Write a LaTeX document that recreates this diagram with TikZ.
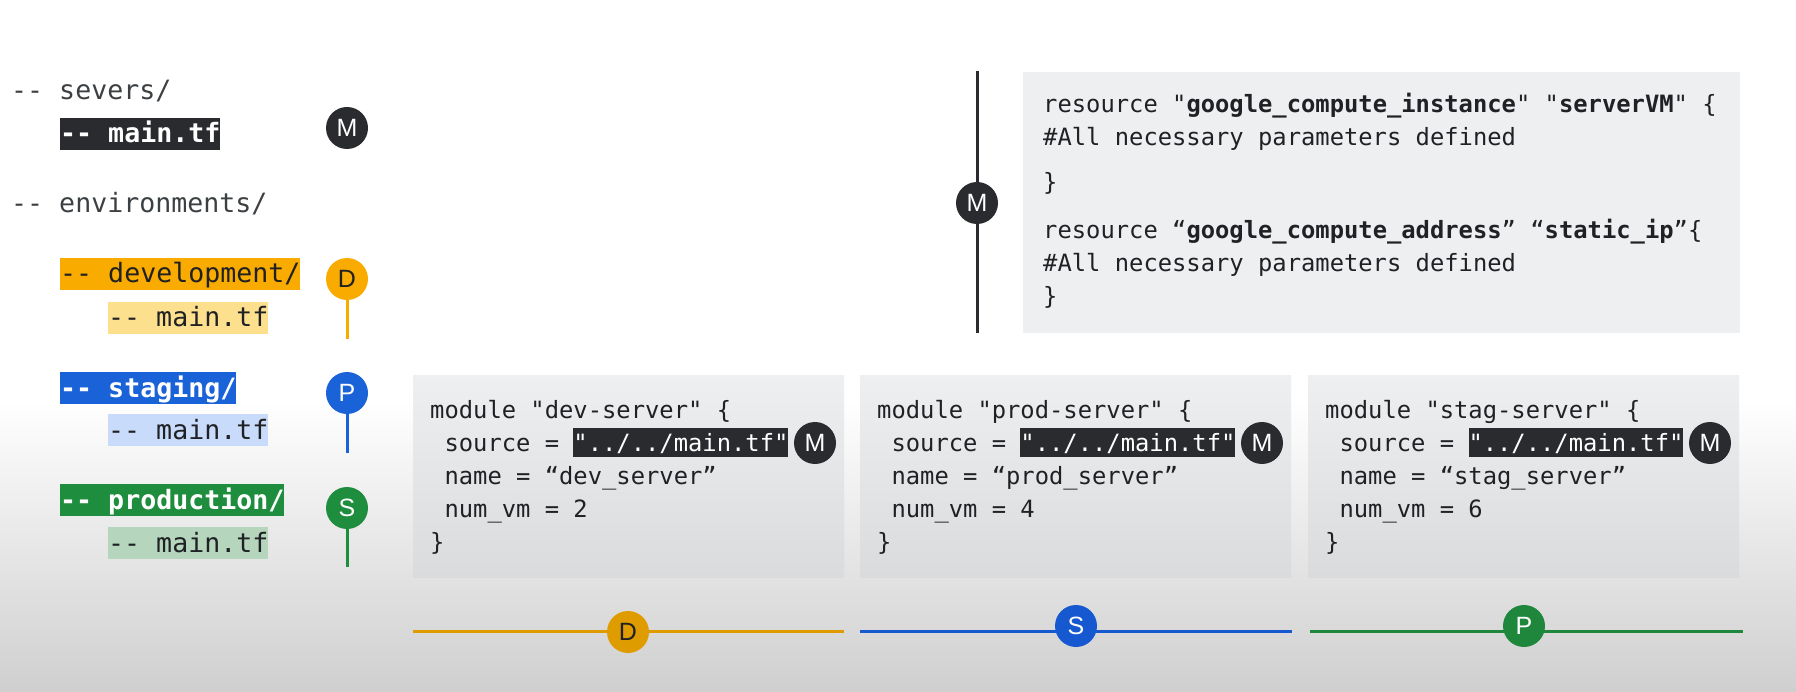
\documentclass[tikz,border=0pt]{standalone}
\usepackage{fontspec}
\setmainfont{Liberation Sans}
\setmonofont{DejaVu Sans Mono}
\usetikzlibrary{positioning}

\definecolor{inkdark}{HTML}{202124}
\definecolor{inkgray}{HTML}{3C4043}
\definecolor{tagdark}{HTML}{2A2B2E}
\definecolor{devyellow}{HTML}{F9AB00}
\definecolor{devdeep}{HTML}{DE9C00}
\definecolor{devlight}{HTML}{FDE08E}
\definecolor{stagblue}{HTML}{1A62D8}
\definecolor{stagdeep}{HTML}{1558CF}
\definecolor{staglight}{HTML}{C8DBFA}
\definecolor{prodgreen}{HTML}{1E8E3E}
\definecolor{proddeep}{HTML}{1E873B}
\definecolor{prodlight}{HTML}{B5D6BC}
\definecolor{codebg}{HTML}{EEEFF1}
\definecolor{codebgdeep}{HTML}{DADBDD}
\definecolor{bggray}{HTML}{CFCFCF}

\tikzset{
   tree/.style={anchor=base west, inner sep=0pt, text=inkgray,
      font=\ttfamily\fontsize{26.6}{30}\selectfont},
   treehl/.style={tree, text height=25pt, text depth=7pt},
   code/.style={anchor=base west, inner sep=0pt, text=inkdark, align=left,
      font=\ttfamily\fontsize{23.8}{33}\selectfont},
   tag/.style={circle, minimum size=42pt, inner sep=0pt, text=white,
      font=\fontsize{25}{25}\selectfont},
   pin/.style={line width=3pt}
}

\newcommand{\srcpath}{{\setlength{\fboxsep}{0pt}%
   \colorbox{tagdark}{\color{white}\rule[-6pt]{0pt}{29pt}"../../main.tf"}}}

\begin{document}
\begin{tikzpicture}[x=1pt, y=-1pt]
   \useasboundingbox (0,0) rectangle (1796,692);
   \fill[white] (0,0) rectangle (1796,692);
   \shade[top color=white, bottom color=bggray] (0,400) rectangle (1796,692);

   % folder tree
   \node[tree] (severs) at (11,100) {-- severs/};
   \node[treehl, fill=tagdark, text=white] (seversmain) at (60,143) {\textbf{-- main.tf}};
   \node[tree] (envs) at (11,213) {-- environments/};
   \node[treehl, fill=devyellow, text=inkdark] (devdir) at (60,283) {-- development/};
   \node[treehl, fill=devlight, text=inkdark] (devmain) at (108,327) {-- main.tf};
   \node[treehl, fill=stagblue, text=white] (stagdir) at (60,397) {\textbf{-- staging/}};
   \node[treehl, fill=staglight, text=inkdark] (stagmain) at (108,439) {-- main.tf};
   \node[treehl, fill=prodgreen, text=white] (proddir) at (60,509) {\textbf{-- production/}};
   \node[treehl, fill=prodlight, text=inkdark] (prodmain) at (108,552) {-- main.tf};

   % tags next to the tree
   \node[tag, fill=tagdark] (mtree) at (347,128) {M};
   \node[tag, fill=devyellow, text=inkdark] (dtree) at (347,279) {D};
   \node[tag, fill=stagblue] (ptree) at (347,393) {P};
   \node[tag, fill=prodgreen] (stree) at (347,508) {S};
   \coordinate (dend) at (347,339);
   \coordinate (pend) at (347,453);
   \coordinate (send) at (347,567);
   \draw[pin, devyellow] (dtree) -- (dend);
   \draw[pin, stagblue] (ptree) -- (pend);
   \draw[pin, prodgreen] (stree) -- (send);

   % shared main.tf
   \coordinate (mtop) at (977,71);
   \coordinate (mbot) at (977,333);
   \node[tag, fill=tagdark] (mres) at (977,203) {M};
   \draw[pin, tagdark] (mtop) -- (mres);
   \draw[pin, tagdark] (mres) -- (mbot);
   \fill[codebg] (1023,72) rectangle (1740,333);
   % base of a multi-line node is its last line
   \node[code] (resources) at (1043,305) {resource "\textbf{google\_compute\_instance}" "\textbf{serverVM}" \{\\
      \#All necessary parameters defined\\[12pt]
      \}\\[15pt]
      resource “\textbf{google\_compute\_address}” “\textbf{static\_ip}”\{\\
      \#All necessary parameters defined\\
      \}};

   % modules
   \foreach \x/\srv/\n in {413/dev/2, 860/prod/4, 1308/stag/6} {
      \shade[top color=codebg, bottom color=codebgdeep] (\x,376) rectangle (\x+431,577);
      \node[code] (\srv code) at (\x+17,550) {module "\srv-server" \{\\
         \ source = \srcpath\\
         \ name = “\srv\_server”\\
         \ num\_vm = \n\\
         \}};
      \node[tag, fill=tagdark] (\srv src) at (\x+402,443) {M};
   }

   % environment lines
   \coordinate (dl) at (413,631);
   \coordinate (dr) at (844,631);
   \coordinate (sl) at (860,631);
   \coordinate (sr) at (1292,631);
   \coordinate (pl) at (1310,631);
   \coordinate (pr) at (1743,631);
   \draw[pin, devdeep] (dl) -- (dr);
   \draw[pin, stagdeep] (sl) -- (sr);
   \draw[pin, proddeep] (pl) -- (pr);
   \node[tag, fill=devdeep, text=inkdark] (dline) at (628,632) {D};
   \node[tag, fill=stagdeep] (sline) at (1076,626) {S};
   \node[tag, fill=proddeep] (pline) at (1524,626) {P};
\end{tikzpicture}
\end{document}
